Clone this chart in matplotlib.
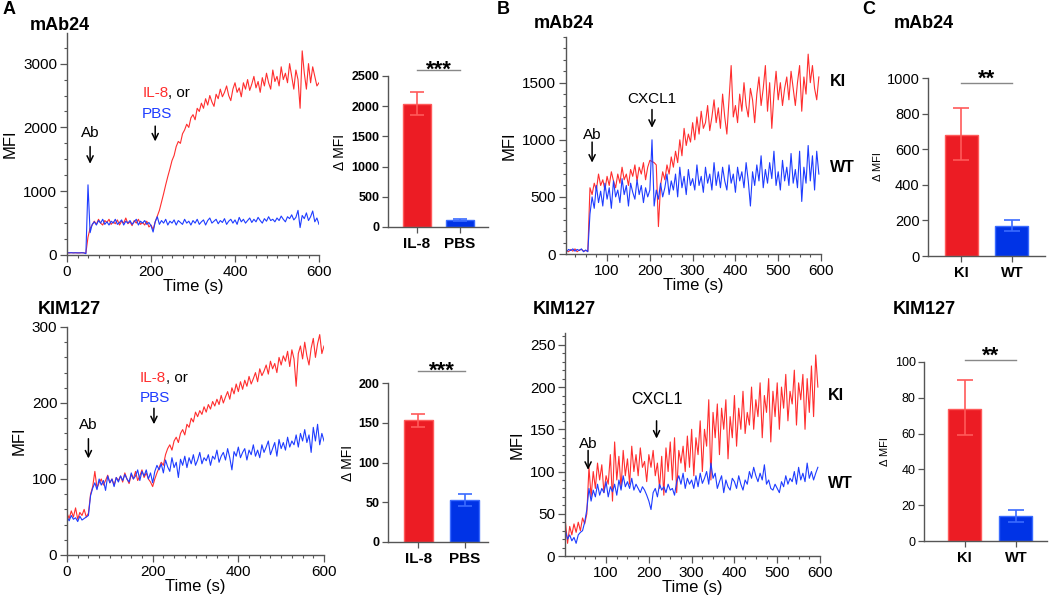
import numpy as np
import matplotlib
matplotlib.use("Agg")
import matplotlib.pyplot as plt
from matplotlib.ticker import MultipleLocator

plt.rcParams['font.family'] = ['Liberation Sans', 'DejaVu Sans']

# ---------------- data ----------------
TIME_A = list(range(0, 601, 5))
TIME_B = list(range(5, 596, 5))

A_MAB24_IL8 = [
    35, 33, 36, 34, 35, 32, 34, 36, 33, 30,
    280, 420, 470, 530, 480, 560, 500, 470, 540, 510,
    560, 480, 520, 490, 550, 470, 530, 500, 580, 490,
    520, 460, 540, 500, 560, 480, 510, 470, 530, 440,
    470, 400, 520, 610, 700, 830, 960, 1100, 1230, 1350,
    1480, 1560, 1700, 1780, 1750, 1900, 1960, 2050, 2000, 2150,
    2200, 2120, 2300, 2250, 2380, 2300, 2450, 2350, 2500, 2400,
    2330, 2520, 2450, 2600, 2480, 2550, 2650, 2500, 2420, 2600,
    2700, 2550, 2620, 2480, 2700, 2600, 2750, 2580, 2680, 2800,
    2620, 2720, 2550, 2780, 2650, 2850, 2700, 2600, 2900, 2720,
    2800, 2650, 2950, 2750, 2850, 2700, 3000, 2800, 2600, 2900,
    2750, 2300, 3200, 2850, 2600, 3000, 2700, 2950, 2800, 2650,
    2700]
A_MAB24_PBS = [
    35, 34, 36, 33, 35, 34, 33, 35, 34, 20,
    1100, 350, 480, 520, 470, 540, 500, 560, 480, 520,
    470, 530, 500, 560, 480, 510, 550, 470, 530, 500,
    540, 480, 520, 560, 470, 530, 500, 540, 480, 510,
    460, 360, 520, 600, 480, 540, 500, 560, 470, 530,
    500, 550, 470, 540, 510, 480, 560, 500, 530, 470,
    540, 500, 560, 480, 520, 550, 470, 540, 580, 500,
    530, 560, 490, 540, 510, 570, 480, 530, 560, 500,
    550, 480, 590, 520, 560, 500, 540, 580, 510, 560,
    520, 590, 540, 500, 570, 530, 600, 540, 560, 520,
    580, 540, 610, 560, 520, 600, 570, 630, 550, 590,
    700, 430, 620, 570, 660, 540, 600, 690, 520, 580,
    480]
A_KIM_IL8 = [
    55, 48, 58, 50, 62, 47, 56, 52, 60, 50,
    55, 80, 90, 110, 88, 95, 100, 92, 98, 105,
    95, 100, 92, 102, 98, 104, 96, 108, 100, 94,
    106, 100, 110, 98, 104, 112, 102, 108, 100, 96,
    90, 100, 108, 115, 122, 118, 132, 140, 145, 138,
    150, 155, 148, 160, 165, 158, 172, 168, 180, 175,
    188, 182, 190, 185, 195, 188, 198, 192, 202, 196,
    205, 198, 210, 200, 208, 215, 205, 220, 212, 225,
    215, 228, 218, 230, 222, 235, 225, 232, 240, 228,
    245, 236, 242, 250, 238, 255, 245, 252, 240, 260,
    250, 262, 255, 268, 248, 270, 258, 222, 265, 275,
    258, 280, 262, 250, 272, 285, 260, 278, 290, 265,
    275]
A_KIM_PBS = [
    50, 45, 52, 47, 49, 44, 51, 46, 48, 50,
    52, 78, 88, 95, 86, 100, 92, 98, 85, 104,
    95, 100, 90, 102, 96, 104, 98, 106, 100, 96,
    108, 100, 104, 112, 98, 110, 104, 112, 100, 108,
    95, 110, 118, 112, 120, 108, 125, 116, 110, 128,
    115, 122, 102, 126, 118, 130, 115, 128, 120, 132,
    118, 125, 135, 120, 128, 124, 132, 118, 130, 126,
    138, 122, 130, 135, 125, 140, 128, 112, 136, 130,
    142, 128, 135, 140, 125, 138, 132, 145, 130, 138,
    128, 145, 135, 142, 150, 132, 140, 148, 130, 152,
    140, 148, 138, 155, 142, 150, 145, 158, 142, 160,
    150, 165, 148, 158, 135, 168, 150, 172, 145, 160,
    150]

B_MAB24_KI = [
    30, 20, 40, 25, 45, 20, 35, 40, 25, 30,
    25, 580, 520, 620, 560, 700, 600, 650, 560, 680,
    600, 720, 640, 580, 700, 620, 760, 650, 700, 600,
    740, 680, 780, 640, 760, 700, 800, 650, 760, 820,
    810, 800, 780, 240, 600, 720, 650, 780, 700, 850,
    760, 900, 800, 1000, 860, 1100, 950, 1050, 980, 1150,
    1000, 1200, 1050, 1250, 1100, 1150, 1300, 1080, 1200, 1350,
    1150, 1280, 1100, 1400, 1200, 1050, 1350, 1650, 1200, 1300,
    1150, 1400, 1250, 1500, 1300, 1200, 1450, 1350, 1150, 1400,
    1550, 1300, 1450, 1650, 1250, 1500, 1100, 1400, 1600, 1350,
    1500, 1300, 1450, 1550, 1350, 1600, 1450, 1300, 1500, 1650,
    1250, 1550, 1400, 1750, 1500, 1650, 1450, 1350, 1550]
B_MAB24_WT = [
    20, 40, 30, 45, 25, 40, 30, 45, 20, 35,
    20, 350, 500, 400, 600, 450, 550, 420, 620, 480,
    580, 400, 640, 500, 560, 450, 660, 520, 600, 420,
    620, 540, 480, 650, 520, 600, 450, 580, 500, 560,
    1000, 420, 560, 480, 620, 500, 580, 700, 520, 640,
    560, 700, 500, 760, 580, 680, 520, 740, 600, 660,
    560, 780, 600, 680, 540, 760, 620, 700, 560, 800,
    600, 720, 580, 760, 640, 560, 780, 620, 700, 540,
    760, 640, 720, 580, 800, 640, 420, 720, 600, 780,
    640, 860, 580, 740, 620, 800, 660, 900, 600, 720,
    560, 820, 640, 760, 600, 880, 620, 740, 580, 900,
    460, 760, 620, 950, 640, 860, 560, 900, 700]
B_KIM_KI = [
    40, 15, 35, 25, 38, 28, 40, 30, 45, 38,
    50, 105, 70, 100, 80, 110, 90, 108, 75, 95,
    85, 120, 65, 135, 90, 118, 80, 125, 95, 115,
    85, 130, 100, 120, 95, 128, 105, 112, 88, 120,
    105, 125, 95, 110, 80, 118, 72, 128, 100, 135,
    90, 140, 75, 125, 110, 130, 100, 142, 105, 150,
    95, 140, 120, 160, 100, 150, 130, 185, 90, 170,
    140, 180, 120, 175, 150, 185, 115, 165, 140, 190,
    130, 175, 150, 195, 145, 170, 155, 200, 150, 185,
    165, 205, 140, 190, 170, 210, 135, 195, 165, 205,
    150, 200, 175, 215, 160, 195, 180, 220, 155, 205,
    185, 215, 150, 210, 170, 225, 165, 238, 200]
B_KIM_WT = [
    30, 20, 25, 18, 22, 15, 25, 28, 30, 40,
    55, 80, 65, 78, 70, 85, 72, 80, 75, 88,
    70, 82, 76, 85, 72, 90, 78, 95, 82, 88,
    80, 92, 78, 85, 80, 75, 82, 78, 72, 65,
    55, 75, 80, 70, 85, 78, 82, 75, 85, 78,
    80, 72, 88, 95, 85, 98, 80, 92, 85, 90,
    80, 95, 82, 98, 86, 92, 100, 85, 110, 92,
    98, 80, 88, 95, 75, 90, 82, 78, 92, 88,
    80, 95, 85, 78, 90, 85, 100, 92, 105, 95,
    88, 98, 90, 108, 85, 90, 80, 78, 85, 80,
    75, 88, 82, 95, 85, 92, 88, 100, 85, 105,
    90, 98, 88, 110, 92, 100, 90, 98, 105]

# bar summaries: mean, lower error, upper error
A_BAR_CATS = ['IL-8', 'PBS']
A_MAB24_BAR = [2030, 110]
A_MAB24_ERR_LO = [180, 15]
A_MAB24_ERR_HI = [210, 20]
A_KIM_BAR = [153, 53]
A_KIM_ERR_LO = [8, 8]
A_KIM_ERR_HI = [8, 8]
C_BAR_CATS = ['KI', 'WT']
C_MAB24_BAR = [680, 168]
C_MAB24_ERR_LO = [140, 30]
C_MAB24_ERR_HI = [150, 32]
C_KIM_BAR = [74, 14]
C_KIM_ERR_LO = [15, 3.5]
C_KIM_ERR_HI = [16, 3.5]

# ---------------- style ----------------
W, H = 1050, 603
RED = '#FF2E2E'
BLUE = '#1E3CFF'
BAR_RED = '#EC1C24'
BAR_RED_EDGE = '#FF5A5A'
BAR_BLUE = '#0033E6'
BAR_BLUE_EDGE = '#3A6BFF'
SPINE = '#555555'
TICK_FS = 11
LAB_FS = 12
ANN_FS = 11
LW = 0.8

fig = plt.figure(figsize=(W / 100, H / 100), dpi=100)


def px_axes(l, t, r, b):
    return fig.add_axes([l / W, 1 - b / H, (r - l) / W, (b - t) / H])


def ftext(x, y, s, **kw):
    fig.text(x / W, 1 - y / H, s, **kw)


def style_trace(ax, xlim, ylim, xmaj, xmin, ymaj, ymin, xticks=None):
    ax.set_xlim(*xlim)
    ax.set_ylim(*ylim)
    for s in ('top', 'right'):
        ax.spines[s].set_visible(False)
    for s in ('left', 'bottom'):
        ax.spines[s].set_color(SPINE)
        ax.spines[s].set_linewidth(1.0)
    if xticks is not None:
        ax.set_xticks(xticks)
    else:
        ax.xaxis.set_major_locator(MultipleLocator(xmaj))
    ax.xaxis.set_minor_locator(MultipleLocator(xmin))
    ax.yaxis.set_major_locator(MultipleLocator(ymaj))
    ax.yaxis.set_minor_locator(MultipleLocator(ymin))
    ax.tick_params(which='major', length=5, width=0.9, color=SPINE,
                   labelsize=TICK_FS, pad=2)
    ax.tick_params(which='minor', length=2.5, width=0.8, color=SPINE)
    ax.set_xlabel('Time (s)', fontsize=LAB_FS, labelpad=0)
    ax.set_ylabel('MFI', fontsize=LAB_FS, labelpad=4)


def arrow(ax, x, y0, y1):
    ax.annotate('', xy=(x, y1), xytext=(x, y0),
                arrowprops=dict(arrowstyle='->,head_length=0.45,head_width=0.22',
                                lw=1.1, color='black', shrinkA=0, shrinkB=0))


def style_bar(ax, cats, means, lo, hi, xlim, ylim, ystep, width,
              sig_y, star_off, stars, bold_ticks, tick_fs, cat_fs, cap, ylab_fs):
    x = np.arange(len(cats))
    ax.bar(x, means, width=width, color=[BAR_RED, BAR_BLUE],
           edgecolor=[BAR_RED_EDGE, BAR_BLUE_EDGE], linewidth=1.0, zorder=2)
    for i, c in enumerate([BAR_RED_EDGE, BAR_BLUE_EDGE]):
        ax.errorbar([x[i]], [means[i]], yerr=[[lo[i]], [hi[i]]], fmt='none',
                    ecolor=c, elinewidth=1.2, capsize=cap, capthick=1.2,
                    zorder=3)
    ax.set_xlim(*xlim)
    ax.set_ylim(*ylim)
    for s in ('top', 'right'):
        ax.spines[s].set_visible(False)
    for s in ('left', 'bottom'):
        ax.spines[s].set_color(SPINE)
        ax.spines[s].set_linewidth(1.0)
    ax.yaxis.set_major_locator(MultipleLocator(ystep))
    ax.set_xticks(x)
    ax.set_xticklabels(cats, fontsize=cat_fs, fontweight='bold')
    ax.tick_params(axis='y', length=4, width=0.9, color=SPINE,
                   labelsize=tick_fs, pad=2)
    if bold_ticks:
        for lab in ax.get_yticklabels():
            lab.set_fontweight('bold')
    ax.tick_params(axis='x', length=4, width=0.9, color=SPINE, pad=3)
    ax.set_ylabel('\u0394 MFI', fontsize=ylab_fs, labelpad=3)
    ax.plot([0, 1], [sig_y, sig_y], color='#888888', lw=1.0, clip_on=False)
    ax.annotate(stars, xy=(0.5, sig_y), xytext=(0, star_off),
                textcoords='offset points', ha='center', va='baseline',
                fontsize=16, fontweight='bold', annotation_clip=False)


# ---------------- panel A, mAb24 trace ----------------
ax = px_axes(67, 33, 319, 255)
ax.plot(TIME_A, A_MAB24_IL8, color=RED, lw=LW)
ax.plot(TIME_A, A_MAB24_PBS, color=BLUE, lw=LW)
style_trace(ax, (0, 600), (0, 3480), 200, 25, 1000, 250)
ax.text(55, 1915, 'Ab', ha='center', va='center', fontsize=ANN_FS)
arrow(ax, 55, 1700, 1430)
t1 = ax.text(179, 2540, 'IL-8', color=RED, ha='left', va='center', fontsize=ANN_FS)
ax.annotate(', or', xy=(1, 0), xycoords=t1, ha='left', va='bottom', fontsize=ANN_FS)
ax.text(179, 2210, 'PBS', color=BLUE, ha='left', va='center', fontsize=ANN_FS)
arrow(ax, 210, 2020, 1780)

# ---------------- panel A, KIM127 trace ----------------
ax = px_axes(67, 327, 324, 555)
ax.plot(TIME_A, A_KIM_IL8, color=RED, lw=LW)
ax.plot(TIME_A, A_KIM_PBS, color=BLUE, lw=LW)
style_trace(ax, (0, 600), (0, 300), 200, 25, 100, 20)
ax.text(50, 171, 'Ab', ha='center', va='center', fontsize=ANN_FS)
arrow(ax, 50, 153, 127)
t2 = ax.text(170, 233, 'IL-8', color=RED, ha='left', va='center', fontsize=ANN_FS)
ax.annotate(', or', xy=(1, 0), xycoords=t2, ha='left', va='bottom', fontsize=ANN_FS)
ax.text(170, 207, 'PBS', color=BLUE, ha='left', va='center', fontsize=ANN_FS)
arrow(ax, 203, 193, 172)

# ---------------- panel A bars ----------------
ax = px_axes(388, 76, 488, 227)
style_bar(ax, A_BAR_CATS, A_MAB24_BAR, A_MAB24_ERR_LO, A_MAB24_ERR_HI,
          (-0.674, 1.651), (0, 2500), 500, 0.63, 2600, -4, '***', True, 9, 11, 5, 10)
ax = px_axes(388, 383, 488, 542)
style_bar(ax, A_BAR_CATS, A_KIM_BAR, A_KIM_ERR_LO, A_KIM_ERR_HI,
          (-0.652, 1.5), (0, 200), 50, 0.63, 215, -4, '***', True, 9, 11, 5, 10)

# ---------------- panel B, mAb24 trace ----------------
ax = px_axes(566, 37, 821, 254)
ax.plot(TIME_B, B_MAB24_KI, color=RED, lw=LW)
ax.plot(TIME_B, B_MAB24_WT, color=BLUE, lw=LW)
style_trace(ax, (4, 600), (0, 1900), 100, 25, 500, 100,
            xticks=[100, 200, 300, 400, 500, 600])
ax.text(65, 1043, 'Ab', ha='center', va='center', fontsize=ANN_FS)
arrow(ax, 65, 980, 800)
ax.text(205, 1358, 'CXCL1', ha='center', va='center', fontsize=ANN_FS)
arrow(ax, 205, 1265, 1105)

# ---------------- panel B, KIM127 trace ----------------
ax = px_axes(565, 333, 820, 556)
ax.plot(TIME_B, B_KIM_KI, color=RED, lw=LW)
ax.plot(TIME_B, B_KIM_WT, color=BLUE, lw=LW)
style_trace(ax, (4, 600), (0, 264), 100, 25, 50, 10,
            xticks=[100, 200, 300, 400, 500, 600])
ax.text(58, 133, 'Ab', ha='center', va='center', fontsize=ANN_FS)
arrow(ax, 58, 125, 102)
ax.text(220, 185, 'CXCL1', ha='center', va='center', fontsize=11.5)
arrow(ax, 218, 160, 139)

# ---------------- panel C bars ----------------
ax = px_axes(928, 78, 1045, 256)
style_bar(ax, C_BAR_CATS, C_MAB24_BAR, C_MAB24_ERR_LO, C_MAB24_ERR_HI,
          (-0.65, 1.65), (0, 1000), 200, 0.65, 972, -1, '**', False, 10.5, 10.5, 5.5, 8)
ax = px_axes(924, 362, 1047, 541)
style_bar(ax, C_BAR_CATS, C_KIM_BAR, C_KIM_ERR_LO, C_KIM_ERR_HI,
          (-0.80, 1.61), (0, 100), 20, 0.65, 101, -1, '**', False, 9, 10.5, 5.5, 8)

# ---------------- labels ----------------
ftext(3, 10, 'A', fontsize=13, fontweight='bold', va='center')
ftext(497, 10, 'B', fontsize=13, fontweight='bold', va='center')
ftext(862, 10, 'C', fontsize=13, fontweight='bold', va='center')
ftext(30, 25, 'mAb24', fontsize=13, fontweight='bold', va='center')
ftext(534, 23, 'mAb24', fontsize=13, fontweight='bold', va='center')
ftext(894, 23, 'mAb24', fontsize=13, fontweight='bold', va='center')
ftext(38, 309, 'KIM127', fontsize=13, fontweight='bold', va='center')
ftext(533, 309, 'KIM127', fontsize=13, fontweight='bold', va='center')
ftext(893, 309, 'KIM127', fontsize=13, fontweight='bold', va='center')
ftext(830, 82, 'KI', fontsize=11.5, fontweight='bold', va='center')
ftext(830, 167, 'WT', fontsize=11.5, fontweight='bold', va='center')
ftext(828, 396, 'KI', fontsize=11.5, fontweight='bold', va='center')
ftext(828, 483, 'WT', fontsize=11.5, fontweight='bold', va='center')

fig.savefig('out.png', dpi=100)
